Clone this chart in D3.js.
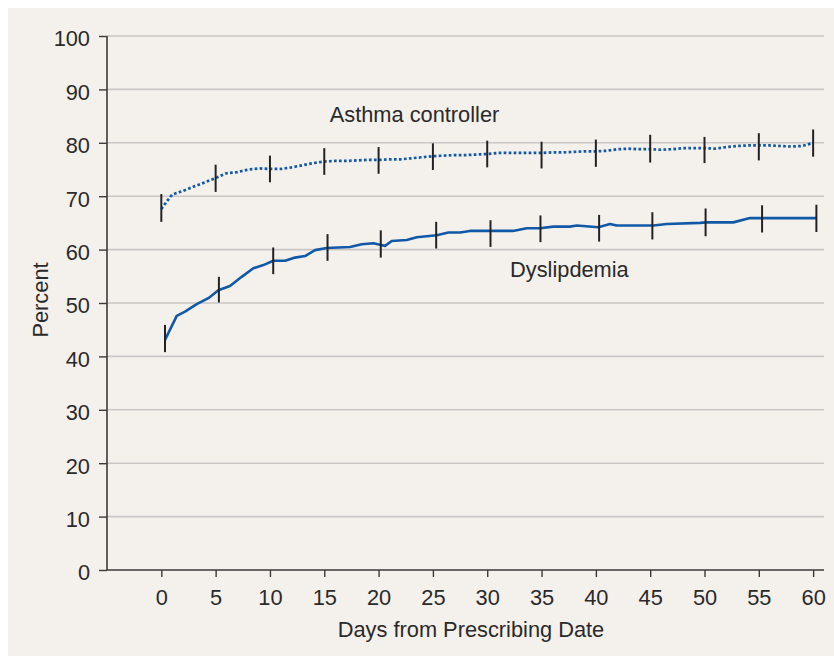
<!DOCTYPE html>
<html>
<head>
<meta charset="utf-8">
<script src="https://cdn.jsdelivr.net/npm/d3@7"></script>
<style>
  body { margin: 0; background: #ffffff; }
  svg { display: block; font-family: "Liberation Sans", Arial, sans-serif; }
  .tick text { fill: #2a2a2a; font-size: 21.8px; }
</style>
</head>
<body>
<svg id="chart" width="834" height="656"></svg>
<script>
// days and percents
var asthmaDays = [0, 0.5, 1, 2, 3, 4, 5, 6, 7, 8, 9, 10, 11, 12, 13, 14, 15, 16, 17, 18, 19, 20,
  21, 22, 23, 24, 25, 26, 27, 28, 29, 30, 31, 32, 33, 34, 35, 36, 37, 38, 39, 40,
  41, 42, 43, 44, 45, 46, 47, 48, 49, 50, 51, 52, 53, 54, 55, 56, 57, 58, 59, 60];
var asthmaPct = [67.6, 69.0, 70.3, 71.0, 71.8, 72.6, 73.4, 74.3, 74.5, 75.0, 75.2, 75.1, 75.1, 75.4, 75.8, 76.2, 76.5, 76.6, 76.6, 76.7, 76.8, 76.8,
  76.9, 76.9, 77.1, 77.3, 77.5, 77.6, 77.7, 77.7, 77.8, 77.9, 78.1, 78.1, 78.1, 78.1, 78.1, 78.2, 78.2, 78.3, 78.4, 78.4,
  78.5, 78.8, 78.9, 78.8, 78.8, 78.7, 78.8, 79.0, 79.0, 79.0, 78.9, 79.2, 79.4, 79.5, 79.5, 79.5, 79.4, 79.3, 79.4, 80.0];

var dysDays = [0.34, 1.42, 2.18, 3.26, 4.33, 5.25, 6.32, 7.40, 8.47, 9.39, 10.31, 11.39, 12.31, 13.23, 14.15, 15.22,
  17.37, 18.45, 19.51, 20.13, 20.59, 21.21, 22.59, 23.51, 25.35, 26.42, 27.49, 28.41, 32.37, 33.63, 34.86,
  36.08, 37.62, 38.24, 40.22, 41.30, 41.92, 45.29, 46.52, 49.59, 50.20, 52.65, 54.19, 60.33];
var dysPct = [43.1, 47.6, 48.4, 49.8, 50.9, 52.4, 53.2, 54.9, 56.5, 57.1, 57.9, 57.9, 58.5, 58.8, 59.9, 60.3,
  60.5, 61.0, 61.2, 60.9, 60.7, 61.6, 61.8, 62.3, 62.7, 63.2, 63.2, 63.5, 63.5, 64.0, 64.0,
  64.3, 64.3, 64.5, 64.2, 64.8, 64.5, 64.5, 64.8, 65.0, 65.1, 65.1, 65.9, 65.9];

// error bars every 5 days
var asthmaBarDays = [0, 5, 10, 15, 20, 25, 30, 35, 40, 45, 50, 55, 60];
var asthmaLow  = [65.2, 70.8, 72.6, 74.0, 74.2, 74.9, 75.4, 75.2, 75.5, 76.3, 76.2, 76.7, 77.4];
var asthmaHigh = [70.4, 75.9, 77.6, 79.0, 79.2, 79.9, 80.4, 80.2, 80.6, 81.5, 81.1, 81.8, 82.5];

var dysBarDays = [0.34, 5.3, 10.3, 15.3, 20.2, 25.3, 30.3, 34.9, 40.3, 45.2, 50.1, 55.3, 60.3];
var dysLow  = [40.8, 50.1, 55.4, 57.9, 58.5, 60.2, 60.5, 61.4, 61.5, 61.9, 62.5, 63.2, 63.3];
var dysHigh = [45.9, 54.9, 60.4, 62.9, 63.6, 65.2, 65.5, 66.4, 66.5, 67.0, 67.7, 68.3, 68.4];

var xTicks = [0, 5, 10, 15, 20, 25, 30, 35, 40, 45, 50, 55, 60];
var yTicks = [0, 10, 20, 30, 40, 50, 60, 70, 80, 90, 100];

var svg = d3.select('#chart');
var blue = '#1158a7';
var ink = '#2a2a2a';
var fontSize = '21.8px';

// panel background
svg.append('rect')
  .attr('x', 8).attr('y', 8)
  .attr('width', 826).attr('height', 648)
  .attr('fill', '#f4f0ec');

const x = d3.scaleLinear().domain([-5, 61]).range([107, 824]);
const y = d3.scaleLinear().domain([0, 100]).range([570, 36]);

// horizontal grid
svg.append('g')
  .selectAll('line')
  .data(yTicks.filter(function(d){ return d > 0; }))
  .enter().append('line')
  .attr('x1', x(-5)).attr('x2', x(61))
  .attr('y1', function(d){ return y(d); })
  .attr('y2', function(d){ return y(d); })
  .attr('stroke', '#c9c7c5')
  .attr('stroke-width', 1.6);

// axes
var yAxis = svg.append('g')
  .attr('transform', 'translate(' + x(-5) + ',0)')
  .call(d3.axisLeft(y).tickValues(yTicks).tickSize(8).tickPadding(9));
var xAxis = svg.append('g')
  .attr('transform', 'translate(0,' + y(0) + ')')
  .call(d3.axisBottom(x).tickValues(xTicks).tickSize(7).tickPadding(12));

[yAxis, xAxis].forEach(function(g){
  g.select('.domain').attr('stroke', '#3a3a3a').attr('stroke-width', 1.6);
  g.selectAll('.tick line').attr('stroke', '#3a3a3a').attr('stroke-width', 1.4);
});
yAxis.selectAll('.tick text').attr('dy', '0.45em');
xAxis.selectAll('.tick text').attr('dy', '0.72em');
// d3 draws the domain with outer ticks; strip them to plain lines
yAxis.select('.domain').attr('d', 'M0,' + y(100) + 'V' + y(0));
xAxis.select('.domain').attr('d', 'M' + x(-5) + ',0H' + x(61));

// series lines
var line = d3.line()
  .x(function(d){ return x(d[0]); })
  .y(function(d){ return y(d[1]); });

svg.append('path')
  .datum(d3.zip(dysDays, dysPct))
  .attr('fill', 'none')
  .attr('stroke', blue)
  .attr('stroke-width', 2.6)
  .attr('stroke-linejoin', 'round')
  .attr('d', line);

svg.append('path')
  .datum(d3.zip(asthmaDays, asthmaPct))
  .attr('fill', 'none')
  .attr('stroke', blue)
  .attr('stroke-width', 2.7)
  .attr('stroke-dasharray', '2.7,2.3')
  .attr('d', line);

// error bars
function drawBars(days, lo, hi){
  svg.append('g')
    .selectAll('line')
    .data(d3.zip(days, lo, hi))
    .enter().append('line')
    .attr('x1', function(d){ return x(d[0]); })
    .attr('x2', function(d){ return x(d[0]); })
    .attr('y1', function(d){ return y(d[1]); })
    .attr('y2', function(d){ return y(d[2]); })
    .attr('stroke', '#222')
    .attr('stroke-width', 2);
}
drawBars(asthmaBarDays, asthmaLow, asthmaHigh);
drawBars(dysBarDays, dysLow, dysHigh);

// series labels
svg.append('text')
  .attr('x', x(15.5)).attr('y', y(83.95))
  .attr('fill', ink).attr('font-size', fontSize)
  .text('Asthma controller');
svg.append('text')
  .attr('x', x(32.1)).attr('y', y(54.95))
  .attr('fill', ink).attr('font-size', fontSize)
  .text('Dyslipdemia');

// axis titles
svg.append('text')
  .attr('x', 471).attr('y', 637)
  .attr('text-anchor', 'middle')
  .attr('fill', ink).attr('font-size', fontSize)
  .text('Days from Prescribing Date');
svg.append('text')
  .attr('transform', 'translate(48,300) rotate(-90)')
  .attr('text-anchor', 'middle')
  .attr('fill', ink).attr('font-size', fontSize)
  .text('Percent');
</script>
</body>
</html>
